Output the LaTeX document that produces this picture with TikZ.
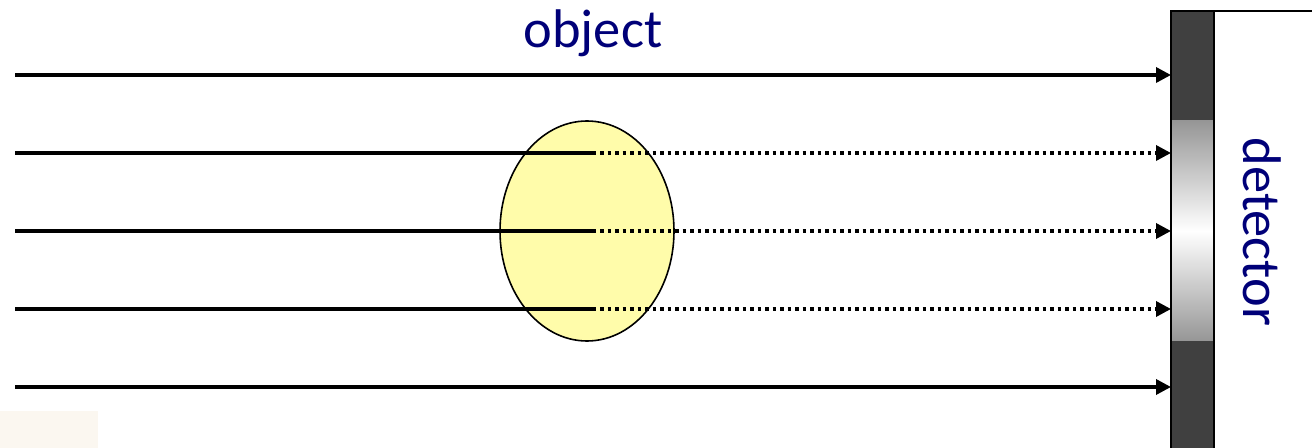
\documentclass[tikz,border=0pt]{standalone}
\usepackage{fontspec}
\setmainfont{Carlito}
\usetikzlibrary{arrows.meta,shapes.geometric}
\definecolor{labelblue}{RGB}{0,0,120}
\definecolor{detdark}{RGB}{64,64,64}
\definecolor{detgray}{RGB}{150,150,150}
\definecolor{objfill}{RGB}{255,252,170}
\definecolor{paper}{RGB}{251,247,240}
\tikzset{
  ray/.style={line width=1.7pt, -{Triangle[length=7.5pt,width=7.5pt]}},
  solidray/.style={line width=1.7pt},
  dotray/.style={line width=1.7pt, dash pattern=on 1.9pt off 1.85pt, -{Triangle[length=7.5pt,width=7.5pt]}},
  label/.style={text=labelblue, font=\fontsize{27.2pt}{32pt}\selectfont, inner sep=0pt},
  body/.style={ellipse, draw=black, line width=0.8pt, fill=objfill,
               minimum width=87pt, minimum height=110pt, inner sep=0pt}
}
\begin{document}
\begin{tikzpicture}[x=0.5pt, y=-0.5pt]
\useasboundingbox (0,0) rectangle (1312,448);

% faint paper patch
\fill[paper] (0,411) rectangle (98,448);

% detector: dark strip with a graded window, white housing on the right
\fill[detdark] (1171,11) rectangle (1214,460);
\shade[top color=detgray, bottom color=detgray, middle color=white]
  (1172,121) rectangle (1213,341);
\draw[line width=1.2pt] (1171,460) -- (1171,11) -- (1214,11) -- (1214,460);
\draw[line width=1.2pt] (1214,11) -- (1320,11);
\node[label, rotate=-90] (det) at (1262,232) {detector};

% object in the beam
\node[body] (obj) at (587,231) {};
\node[label, anchor=base] (objlabel) at (593,48) {object};

% ray end points
\foreach \i/\y in {1/75,2/153,3/231,4/309,5/387}{
  \coordinate (s\i) at (15,\y);
  \coordinate (e\i) at (1171,\y);
}
\foreach \i/\y in {2/153,3/231,4/309}{
  \coordinate (m\i) at (596,\y);
  \coordinate (d\i) at (600,\y);
}

% unattenuated rays
\draw[ray] (s1) -- (e1);
\draw[ray] (s5) -- (e5);

% rays passing through the object
\foreach \i in {2,3,4}{
  \draw[solidray] (s\i) -- (m\i);
  \draw[dotray] (d\i) -- (e\i);
}
\end{tikzpicture}
\end{document}
